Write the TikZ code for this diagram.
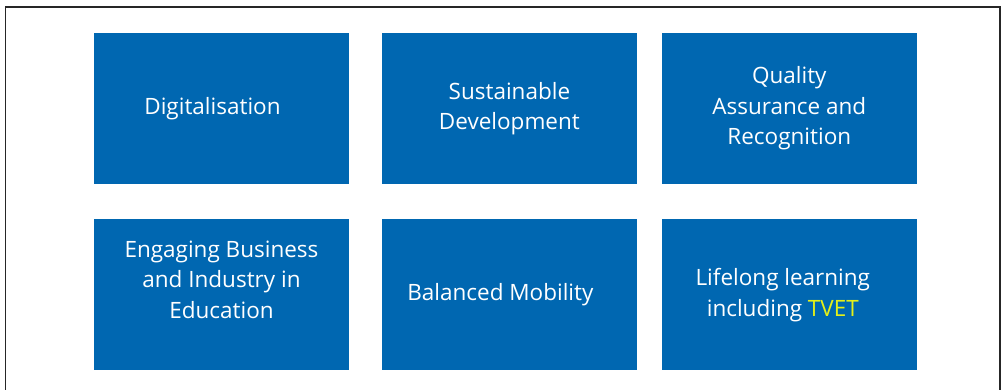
\documentclass[tikz,border=0pt]{standalone}
\usepackage{fontspec}
\setmainfont{Open Sans}
\usetikzlibrary{positioning}
\definecolor{tileblue}{RGB}{0,103,177}
\definecolor{tvetyellow}{RGB}{228,240,24}

\begin{document}
\begin{tikzpicture}[x=1pt,y=1pt]
        \tikzstyle{every node}=[fill=tileblue,text=white,inner sep=0pt,minimum width=255pt,minimum height=151pt,align=center,font=\fontsize{22.5}{30.5}\selectfont]
        \useasboundingbox (0,0) rectangle (1005,-390);
        \draw[line width=1.5pt,black!85] (5.5,-390) |- (1000,-7) -- (1000,-390);
        \node (dig) at (221.5,-108.5) {Digitalisation\hspace*{18pt}};
        \node[right=32.5pt of dig] (sus) {Sustainable\\Development};
        \node[right=24.5pt of sus] (qual) {Quality\\Assurance and\\Recognition};
        \node[below=35pt of dig] (eng) {Engaging Business\\and Industry in\\Education\\\mbox{}};
        \node[below=35pt of sus] (mob) {Balanced Mobility\hspace*{18pt}};
        \node[below=35pt of qual] (lll) {Lifelong learning\hspace*{13pt}\\including \textcolor{tvetyellow}{TVET}\hspace*{13pt}};
    \end{tikzpicture}
\end{document}
